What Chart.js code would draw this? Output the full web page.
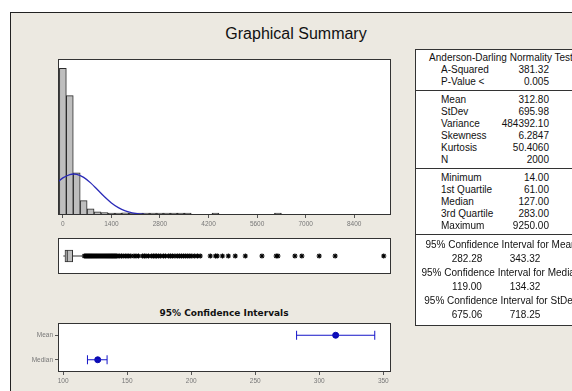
<!DOCTYPE html>
<html>
<head>
<meta charset="utf-8">
<script src="https://cdn.jsdelivr.net/npm/chart.js@4"></script>
<style>
body { margin: 0; width: 572px; height: 391px; overflow: hidden; position: relative; background: #fff; font-family: "Liberation Sans", Arial, sans-serif; }
#frame { position: absolute; left: 10px; top: 12px; width: 600px; height: 420px; background: #ECE9E1; border-left: 1px solid #222; border-top: 1px solid #222; }
canvas { position: absolute; }
#title { position: absolute; left: 196px; width: 200px; top: 25px; text-align: center; font-size: 16px; color: #111; }
#ciTitle { position: absolute; left: 124px; width: 200px; top: 308px; text-align: center; font: bold 9px "DejaVu Sans", sans-serif; color: #111; }
#stats { position: absolute; left: 415px; top: 49px; width: 170px; background: #fff; border: 1px solid #333; font-size: 10px; color: #111; }
.sec { border-bottom: 1px solid #333; padding: 2px 0 2px; }
.sec.first { padding-top: 2px; }
.sec.mid { padding-top: 3px; }
.sec.last { border-bottom: none; padding: 3px 0 3px; }
.row { position: relative; height: 12px; line-height: 12px; white-space: nowrap; }
.ci .row { height: 14px; line-height: 14px; }
.lab { position: absolute; left: 25px; }
.val { position: absolute; right: 37px; }
.head { text-align: center; }
.lo { position: absolute; left: 25px; width: 52px; text-align: center; }
.hi { position: absolute; left: 83px; width: 52px; text-align: center; }
</style>
</head>
<body>
<div id="frame"></div>
<div id="title">Graphical Summary</div>
<canvas id="histChart" width="353" height="186" style="left:48px;top:49px"></canvas>
<canvas id="boxChart" width="353" height="56" style="left:48px;top:228px"></canvas>
<div id="ciTitle">95% Confidence Intervals</div>
<canvas id="ciChart" width="391" height="78" style="left:10px;top:313px"></canvas>
<div id="stats"></div>
<script>
// histogram bins (midpoints) and counts
const binMids = [0, 200, 400, 600, 800, 1000, 1200, 1400, 1600, 1800, 2000, 2200, 2400, 2600, 2800, 3000,
  3200, 3400, 3600, 3800, 4000, 4200, 4400, 4600, 4800, 5000, 5200, 5400, 5600, 5800, 6000, 6200,
  6400, 6600, 6800, 7000, 7200, 7400, 7600, 7800, 8000, 8200, 8400, 8600, 8800, 9000, 9200];
const binCounts = [820, 667, 236, 80, 35, 18, 13, 8, 8, 12, 6, 3, 2, 2, 2, 2,
  3, 2, 2, null, null, null, 3, null, null, null, null, null, null, null, null, 2,
  null, null, null, null, null, null, null, null, null, null, null, null, null, null, null];

// fitted normal curve
const curveX = [-140, 0, 200, 313, 400, 600, 800, 1000, 1200, 1400, 1600, 1800, 2000, 2200, 2400, 2600, 2800, 3000, 3400, 4000, 9460];
const curveY = [185.6, 207.3, 226.3, 229.3, 227.5, 210.6, 179.5, 140.8, 101.8, 67.7, 41.5, 23.4, 12.1, 5.8, 2.6, 1.0, 0.4, 0.13, 0.01, 0, 0];

const histTicks = [0, 1400, 2800, 4200, 5600, 7000, 8400];

// boxplot
const boxQuartiles = [61, 127, 283];
const whiskerLow = [14, 61];
const whiskerHigh = [283, 600];
const outliers = [620, 650, 680, 710, 740, 770, 800, 830, 860, 890, 920, 950, 980, 1010, 1040, 1070, 1100,
  1130, 1160, 1190, 1220, 1250, 1280, 1310, 1340, 1370, 1400, 1430, 1460, 1490, 1520, 1550, 1590,
  1640, 1690, 1740, 1800, 1850, 1900, 1960, 2050, 2110, 2180, 2300, 2350, 2400, 2470, 2560,
  2610, 2660, 2700, 2760, 2820, 2900, 2960, 3050, 3100, 3160, 3230, 3300, 3360, 3420, 3480, 3540, 3600,
  3660, 3720, 3800, 3880, 3960, 4250, 4400, 4450, 4600, 4770, 4970, 5260, 5740, 6150, 6200, 6690, 6890,
  7390, 7850, 9250];

// 95% confidence intervals
const ciLabels = ["Mean", "Median"];
const ciEstimates = [312.80, 127.00];
const ciLower = [282.28, 119.00];
const ciUpper = [343.32, 134.32];
const ciTicks = [100, 150, 200, 250, 300, 350];

// stats table
const adLabels = ["A-Squared", "P-Value <"];
const adValues = ["381.32", "0.005"];
const momentLabels = ["Mean", "StDev", "Variance", "Skewness", "Kurtosis", "N"];
const momentValues = ["312.80", "695.98", "484392.10", "6.2847", "50.4060", "2000"];
const quantLabels = ["Minimum", "1st Quartile", "Median", "3rd Quartile", "Maximum"];
const quantValues = ["14.00", "61.00", "127.00", "283.00", "9250.00"];
const ciNames = ["Mean", "Median", "StDev"];
const ciLo = ["282.28", "119.00", "675.06"];
const ciHi = ["343.32", "134.32", "718.25"];

Chart.defaults.font.family = "Liberation Sans, Arial, sans-serif";
Chart.defaults.animation = false;

const framePlugin = {
  id: "frame",
  beforeDraw(chart) {
    const a = chart.chartArea, c = chart.ctx;
    c.save();
    c.fillStyle = "#fff";
    c.fillRect(a.left, a.top, a.width, a.height);
    c.restore();
  },
  afterDraw(chart) {
    const a = chart.chartArea, c = chart.ctx;
    c.save();
    c.strokeStyle = "#333";
    c.lineWidth = 1;
    c.strokeRect(a.left + 0.5, a.top + 0.5, a.width - 1, a.height - 1);
    c.restore();
  }
};

const tickFont = { size: 6.5 };
const blue = "#1414C8";

new Chart(document.getElementById("histChart"), {
  type: "bar",
  data: {
    datasets: [{
      type: "line",
      data: curveX.map((x, i) => ({ x: x, y: curveY[i] })),
      borderColor: "#2A2AB8",
      borderWidth: 1.3,
      pointRadius: 0,
      cubicInterpolationMode: "monotone",
      order: 0
    }, {
      type: "bar",
      data: binMids.map((x, i) => ({ x: x, y: binCounts[i] })),
      backgroundColor: "#BEBEBE",
      borderColor: "#2a2a2a",
      borderWidth: 1,
      borderSkipped: false,
      minBarLength: 2,
      barPercentage: 1,
      categoryPercentage: 1,
      order: 1
    }]
  },
  options: {
    responsive: false,
    layout: { padding: { left: 10, right: 10, top: 10, bottom: 0 } },
    plugins: { legend: { display: false }, tooltip: { enabled: false } },
    scales: {
      x: {
        type: "linear",
        min: -140,
        max: 9460,
        offset: false,
        afterBuildTicks: s => { s.ticks = histTicks.map(v => ({ value: v })); },
        afterFit: s => { s.height = 20; },
        grid: { offset: false, drawOnChartArea: false, tickLength: 3, color: "#555" },
        border: { display: false },
        ticks: { font: tickFont, color: "#777", padding: 2, maxRotation: 0, autoSkip: false, callback: v => String(v) }
      },
      y: { display: false, min: 0, max: 872 }
    }
  },
  plugins: [framePlugin]
});

new Chart(document.getElementById("boxChart"), {
  type: "scatter",
  data: {
    datasets: [{
      type: "bar",
      indexAxis: "y",
      data: [{ x: [boxQuartiles[0], boxQuartiles[2]], y: 1 }],
      barThickness: 12,
      backgroundColor: "#BEBEBE",
      borderColor: "#333",
      borderWidth: 1,
      borderSkipped: false,
      order: 1
    }, {
      type: "scatter",
      data: [{ x: boxQuartiles[1], y: 1 }],
      pointStyle: "line",
      rotation: 90,
      radius: 6,
      borderColor: "#333",
      borderWidth: 1,
      order: 0
    }, {
      type: "line",
      data: whiskerLow.map(v => ({ x: v, y: 1 })),
      borderColor: "#333",
      borderWidth: 1,
      pointRadius: 0,
      order: 2
    }, {
      type: "line",
      data: whiskerHigh.map(v => ({ x: v, y: 1 })),
      borderColor: "#333",
      borderWidth: 1,
      pointRadius: 0,
      order: 2
    }, {
      type: "scatter",
      data: outliers.map(v => ({ x: v, y: 1 })),
      pointStyle: "star",
      radius: 2.6,
      borderColor: "#000",
      borderWidth: 1.1,
      order: 3
    }]
  },
  options: {
    responsive: false,
    layout: { padding: 10 },
    plugins: { legend: { display: false }, tooltip: { enabled: false } },
    scales: {
      x: { display: false, min: -140, max: 9460 },
      y: { display: false, min: 0, max: 2 }
    }
  },
  plugins: [framePlugin]
});

const ciSets = [];
ciLabels.forEach((lab, i) => {
  ciSets.push({
    type: "line",
    data: [{ x: ciLower[i], y: lab }, { x: ciUpper[i], y: lab }],
    borderColor: blue,
    borderWidth: 1,
    pointStyle: "line",
    rotation: 90,
    pointRadius: 4.5,
    pointBorderColor: blue,
    pointBorderWidth: 1
  });
});
ciSets.push({
  type: "scatter",
  data: ciLabels.map((lab, i) => ({ x: ciEstimates[i], y: lab })),
  pointStyle: "circle",
  radius: 3,
  backgroundColor: "#0A0AB4",
  borderColor: "#0A0AB4"
});

new Chart(document.getElementById("ciChart"), {
  type: "scatter",
  data: { datasets: ciSets },
  options: {
    responsive: false,
    layout: { padding: { left: 10, right: 10, top: 10, bottom: 0 } },
    plugins: { legend: { display: false }, tooltip: { enabled: false } },
    scales: {
      x: {
        type: "linear",
        min: 96,
        max: 356,
        afterBuildTicks: s => { s.ticks = ciTicks.map(v => ({ value: v })); },
        afterFit: s => { s.height = 19; },
        grid: { drawOnChartArea: false, tickLength: 3, color: "#555" },
        border: { display: false },
        ticks: { font: tickFont, color: "#777", padding: 2, maxRotation: 0 }
      },
      y: {
        type: "category",
        labels: ciLabels,
        offset: true,
        afterFit: s => { s.width = 38; },
        grid: { drawOnChartArea: false, tickLength: 3, color: "#555" },
        border: { display: false },
        ticks: { font: tickFont, color: "#777", padding: 2 }
      }
    }
  },
  plugins: [framePlugin]
});

// stats table
function pairRows(labels, values) {
  return labels.map((l, i) => '<div class="row"><span class="lab">' + l + '</span><span class="val">' + values[i] + '</span></div>').join("");
}
let html = '<div class="sec first"><div class="row head">Anderson-Darling Normality Test</div>' + pairRows(adLabels, adValues) + '</div>';
html += '<div class="sec mid">' + pairRows(momentLabels, momentValues) + '</div>';
html += '<div class="sec mid">' + pairRows(quantLabels, quantValues) + '</div>';
html += '<div class="sec last ci">';
ciNames.forEach((n, i) => {
  html += '<div class="row head">95% Confidence Interval for ' + n + '</div>';
  html += '<div class="row"><span class="lo">' + ciLo[i] + '</span><span class="hi">' + ciHi[i] + '</span></div>';
});
html += '</div>';
document.getElementById("stats").innerHTML = html;
</script>
</body>
</html>
